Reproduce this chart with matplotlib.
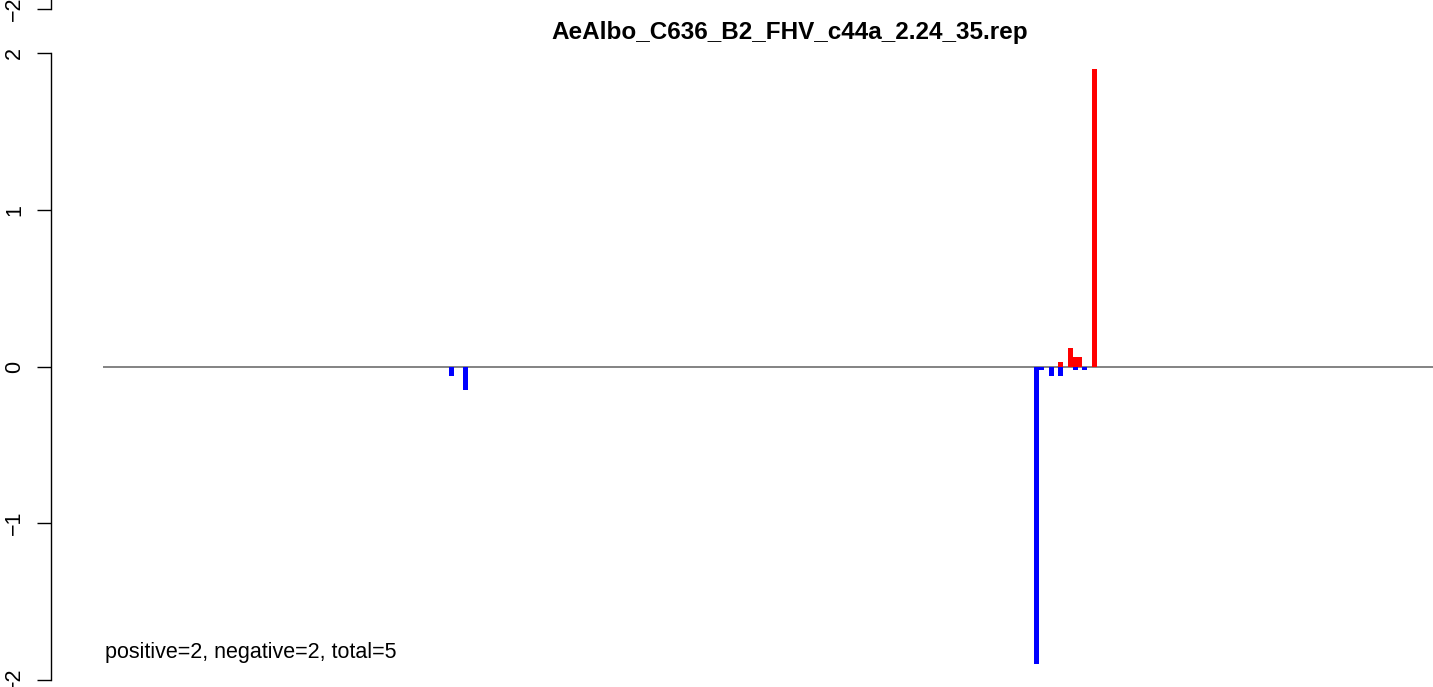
import matplotlib
matplotlib.use("Agg")
import matplotlib.pyplot as plt
from matplotlib.ticker import FixedLocator

plt.rcParams['font.family'] = ['Liberation Sans', 'DejaVu Sans']

title = "AeAlbo_C636_B2_FHV_c44a_2.24_35.rep"
summary = "positive=2, negative=2, total=5"

neg_pos = [72, 75, 194, 195, 197, 199, 202, 204]
neg_val = [-0.06, -0.15, -1.90, -0.02, -0.06, -0.06, -0.025, -0.025]
pos_pos = [199, 201, 202, 203, 206]
pos_val = [0.03, 0.115, 0.058, 0.058, 1.90]
yticks = [-2, -1, 0, 1, 2]

W, H = 1433, 687
fig = plt.figure(figsize=(W / 100, H / 100), dpi=100)

def fx(px):
    return px / W

def fy(py):
    return 1 - py / H

def style_axis(a):
    a.set_xlim(0, 277)
    a.set_ylim(-2, 2)
    a.patch.set_visible(False)
    for s in ['top', 'right', 'bottom']:
        a.spines[s].set_visible(False)
    a.spines['left'].set_position(('outward', 52 * 0.72))
    a.spines['left'].set_linewidth(1.0)
    a.spines['left'].set_bounds(-2, 2)
    a.set_xticks([])
    a.yaxis.set_major_locator(FixedLocator(yticks))
    a.set_yticklabels([str(t) if t >= 0 else "\u2212" + str(-t) for t in yticks],
                      rotation=90, va='center', ha='right', fontsize=15.5)
    a.tick_params(axis='y', length=14 * 0.72, width=1.0, pad=8.5)

# main axes: x from px 103 to 1433, y=2 at px 53, y=-2 at px 680
ax = fig.add_axes([fx(103), fy(680), fx(1433) - fx(103), fy(53) - fy(680)])
style_axis(ax)

ax.axhline(0, color='#6e6e6e', lw=1.2, zorder=1)
ax.bar(neg_pos, neg_val, width=1.0, align='edge', color='#0000ff', linewidth=0, zorder=2)
ax.bar(pos_pos, pos_val, width=1.0, align='edge', color='#ff0000', linewidth=0, zorder=2)

ax.text(0.4, -1.825, summary, ha='left', va='center', fontsize=15.5)
fig.text(fx(790), fy(33), title, ha='center', va='center', fontsize=17.5, fontweight='bold')

# partial panel above (only its bottom visible)
ax2 = fig.add_axes([fx(103), fy(9), fx(1433) - fx(103), fy(53) - fy(680)])
style_axis(ax2)

fig.savefig("out.png", dpi=100)
